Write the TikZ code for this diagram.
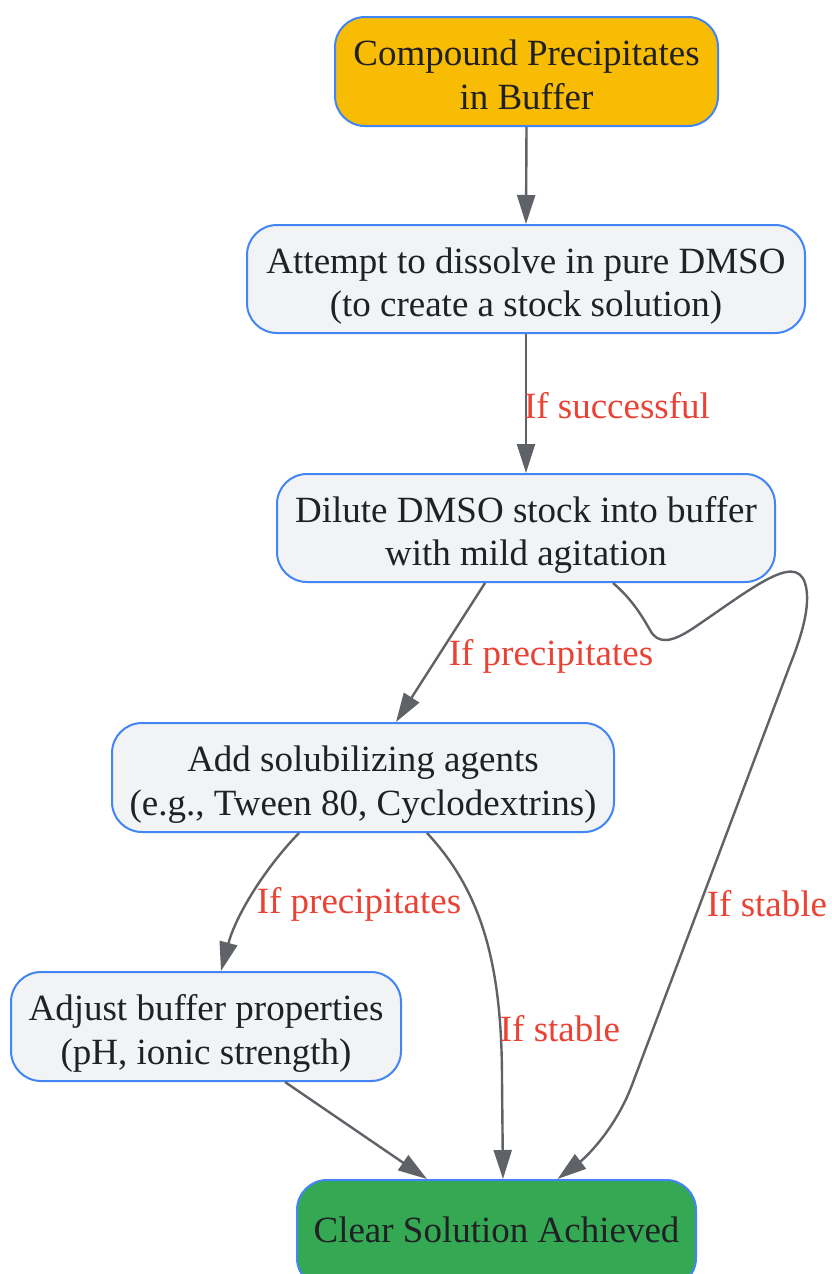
\documentclass[tikz,border=0pt]{standalone}
\usepackage{fontspec}
\setmainfont{Liberation Serif}
\usetikzlibrary{arrows.meta}
\definecolor{bblue}{HTML}{4285F4}
\definecolor{gfill}{HTML}{F1F3F4}
\definecolor{yfill}{HTML}{F9BC05}
\definecolor{grfill}{HTML}{34A853}
\definecolor{tcol}{HTML}{202124}
\definecolor{ecol}{HTML}{5F6368}
\definecolor{lcol}{HTML}{EA4335}
\newcommand\myfs{\fontsize{37}{43.5}\selectfont}
\newcommand\hs{\rule{0pt}{40pt}}
\newcommand\ds{\rule[-8pt]{0pt}{8pt}}
\tikzset{
  box/.style={draw=bblue, line width=2pt, rounded corners=30pt, fill=gfill,
    align=center, font=\myfs, text=tcol, inner sep=0pt},
  edge/.style={draw=ecol, line width=2.4pt, -{Triangle[length=29pt,width=18pt]}},
  elabel/.style={font=\myfs, text=lcol, inner sep=0pt}
}
\begin{document}
\begin{tikzpicture}[x=1pt,y=-1pt]
\useasboundingbox[fill=white] (0,0) rectangle (831,1274);
\node[box, fill=yfill, minimum width=383pt, minimum height=109pt] (n1) at (526.5,71.5) {\hs Compound Precipitates\\in Buffer\ds};
\node[box, minimum width=558pt, minimum height=108pt] (n2) at (526,279) {\hs Attempt to dissolve in pure DMSO\\(to create a stock solution)\ds};
\node[box, minimum width=498pt, minimum height=108pt] (n3) at (526,528) {\hs Dilute DMSO stock into buffer\\with mild agitation\ds};
\node[box, minimum width=502pt, minimum height=109pt] (n4) at (363,777.5) {\hs Add solubilizing agents\\(e.g., Tween 80, Cyclodextrins)\ds};
\node[box, minimum width=390pt, minimum height=109pt] (n5) at (206,1026.5) {\hs Adjust buffer properties\\(pH, ionic strength)\ds};
\node[box, fill=grfill, minimum width=399pt, minimum height=108pt] (n6) at (496.5,1234) {Clear Solution Achieved\rule[-9pt]{0pt}{9pt}};

\draw[edge] (n1.south) -- (n2.north);
\draw[edge] (n2.south) -- (n3.north);
\draw[edge] ([xshift=-41pt]n3.south) -- ([xshift=33pt]n4.north);
\draw[edge] ([xshift=87pt]n3.south) .. controls (633,600) and (643,618) .. (650,630)
   .. controls (658,645) and (672,642) .. (692,629)
   .. controls (750,590) and (795,552) .. (805,583)
   .. controls (812,605) and (800,640) .. (790,665)
   -- (632,1085)
   .. controls (615,1130) and (585,1158) .. ([xshift=61pt]n6.north);
\draw[edge] ([xshift=-64pt]n4.south) .. controls (265,868) and (236,915) .. ([xshift=15pt]n5.north);
\draw[edge] ([xshift=64pt]n4.south) .. controls (480,890) and (502,960) .. (502,1080) -- ([xshift=6.5pt]n6.north);
\draw[edge] ([xshift=79pt]n5.south) -- ([xshift=-69.5pt]n6.north);

\node[elabel] (l1) at (617,406) {If successful};
\node[elabel] (l2) at (551,656) {If precipitates};
\node[elabel] (l3) at (767,904) {If stable};
\node[elabel] (l4) at (359,904) {If precipitates};
\node[elabel] (l5) at (560,1029) {If stable};
\end{tikzpicture}
\end{document}
